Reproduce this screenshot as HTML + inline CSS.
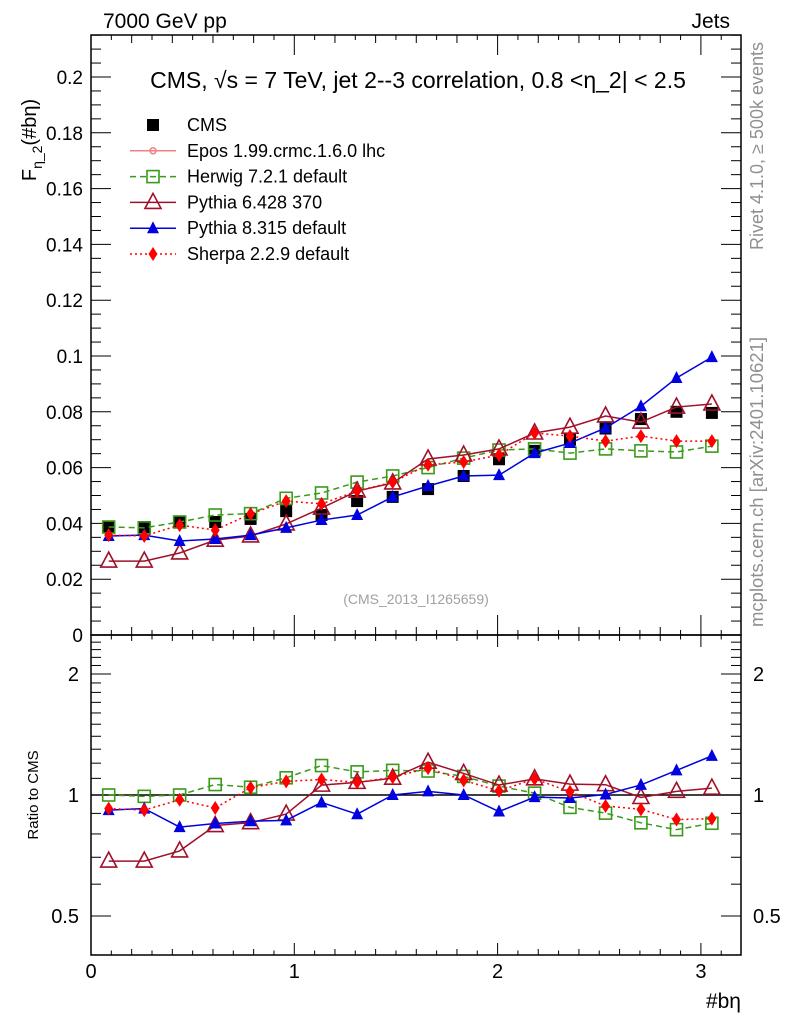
<!DOCTYPE html>
<html><head><meta charset="utf-8"><style>
body{margin:0;background:#fff;}
svg{font-family:"Liberation Sans",sans-serif;}
</style></head><body>
<svg id="c" width="786" height="1024" xmlns="http://www.w3.org/2000/svg"></svg>
<script>
const xCenters=[0.087,0.262,0.436,0.611,0.785,0.960,1.134,1.309,1.484,1.658,1.833,2.007,2.182,2.356,2.531,2.705,2.880,3.054];
const cmsVals=[0.0387,0.0387,0.0405,0.0405,0.0416,0.0444,0.043,0.048,0.0495,0.0523,0.057,0.063,0.066,0.070,0.074,0.0774,0.080,0.0796];
const herwigVals=[0.0387,0.0384,0.0405,0.043,0.0435,0.049,0.0509,0.0548,0.057,0.060,0.0634,0.0663,0.0667,0.0652,0.0667,0.066,0.0656,0.0677];
const pythia6Vals=[0.0265,0.0265,0.0294,0.034,0.0355,0.0398,0.0455,0.0516,0.0545,0.0631,0.0645,0.0667,0.0724,0.0745,0.0785,0.0763,0.0817,0.0828];
const pythia8Vals=[0.0355,0.0358,0.0337,0.0344,0.0358,0.0384,0.0412,0.043,0.0495,0.0534,0.057,0.0573,0.0652,0.0688,0.0742,0.082,0.0921,0.0996];
const sherpaVals=[0.0358,0.0355,0.0394,0.0376,0.0434,0.048,0.047,0.0516,0.0548,0.061,0.062,0.0645,0.0724,0.0713,0.0695,0.0713,0.0695,0.0695];
const mainYTicks=["0","0.02","0.04","0.06","0.08","0.1","0.12","0.14","0.16","0.18","0.2"];
const ratioTicks=["0.5","1","2"];
const xTicks=["0","1","2","3"];

const NS="http://www.w3.org/2000/svg";
const svg=document.getElementById('c');
const L=91,R=741,T=35,MB=635,RB=955;
const X=v=>L+v*203.3;
const Y=v=>MB-v*2790;
const YR=r=>795-121*Math.log2(r);
function el(tag,attrs,parent){const e=document.createElementNS(NS,tag);for(const k in attrs)e.setAttribute(k,attrs[k]);(parent||svg).appendChild(e);return e;}
function txt(s,attrs,parent){const e=el('text',attrs,parent);e.textContent=s;return e;}

let f1=el('rect',{x:L,y:T,width:R-L,height:MB-T,fill:'none',stroke:'#000','stroke-width':1.5});


let f2=el('rect',{x:L,y:MB,width:R-L,height:RB-MB,fill:'none',stroke:'#000','stroke-width':1.5});



const ax=el('g',{stroke:'#000','stroke-width':1});


for(let i=0;i<=43;i++){const v=i*0.005;const y=Y(v);if(y<T)break;const len=(i%4==0)?20:10;
 el('line',{x1:L,x2:L+len,y1:y,y2:y},ax);el('line',{x1:R,x2:R-len,y1:y,y2:y},ax);}
mainYTicks.forEach((s,i)=>{const t=txt(s,{x:L-8,y:Y(i*0.02)+7,'font-size':19,'text-anchor':'end'});
 
 });
for(let i=0;i<=32;i++){const v=i*0.1;const x=X(v);if(x>R)break;const len=(i%10==0)?20:(i%2==0?8:5);
 el('line',{x1:x,x2:x,y1:MB,y2:MB-len},ax);el('line',{x1:x,x2:x,y1:T,y2:T+len},ax);
 el('line',{x1:x,x2:x,y1:RB,y2:RB-len/2-2},ax);el('line',{x1:x,x2:x,y1:MB,y2:MB+len/2+2},ax);}
xTicks.forEach((s,i)=>{const t=txt(s,{x:X(i),y:978,'font-size':20,'text-anchor':'middle'});
 
 });
for(let r=0.4;r<=2.5;r+=0.1){const y=YR(r);if(y<MB||y>RB)continue;const major=[0.5,1,2].some(m=>Math.abs(m-r)<1e-6);const len=major?20:10;
 el('line',{x1:L,x2:L+len,y1:y,y2:y},ax);el('line',{x1:R,x2:R-len,y1:y,y2:y},ax);}
ratioTicks.forEach(s=>{const v=parseFloat(s);
 const a=txt(s,{x:L-12,y:YR(v)+7,'font-size':20,'text-anchor':'end'});
 
 
 const b=txt(s,{x:R+12,y:YR(v)+7,'font-size':20,'text-anchor':'start'});
 
 });
let one=el('line',{x1:L,x2:R,y1:YR(1),y2:YR(1),stroke:'#000','stroke-width':1.5});



function marker(type,x,y,color,g){
 if(type=='sqf')el('rect',{x:x-6,y:y-6,width:12,height:12,fill:color},g);
 else if(type=='sqo')el('rect',{x:x-6,y:y-6,width:12,height:12,fill:'none',stroke:color,'stroke-width':1.6},g);
 else if(type=='tro')el('polygon',{points:`${x},${y-9} ${x-8},${y+6} ${x+8},${y+6}`,fill:'none',stroke:color,'stroke-width':1.6},g);
 else if(type=='trf')el('polygon',{points:`${x},${y-7} ${x-6},${y+5} ${x+6},${y+5}`,fill:color},g);
 else if(type=='dia')el('polygon',{points:`${x},${y-7} ${x-4.5},${y} ${x},${y+7} ${x+4.5},${y}`,fill:color},g);
 else if(type=='cross'){el('circle',{cx:x,cy:y,r:3,fill:'none',stroke:color,'stroke-width':1.5},g);}
}
const series=[
 {name:'herwig',vals:herwigVals,color:'#3a9a1a',dash:'6,4',m:'sqo'},
 {name:'pythia6',vals:pythia6Vals,color:'#a0102a',dash:'',m:'tro'},
 {name:'pythia8',vals:pythia8Vals,color:'#0000e0',dash:'',m:'trf'},
 {name:'sherpa',vals:sherpaVals,color:'#ff0000',dash:'2,3',m:'dia'}];
const cg=el('g',{});


xCenters.forEach((x,i)=>marker('sqf',X(x),Y(cmsVals[i]),'#000',cg));
series.forEach(s=>{
 const g=el('g',{});
 
 
 const pts=xCenters.map((x,i)=>X(x)+','+Y(s.vals[i])).join(' ');
 el('polyline',{points:pts,fill:'none',stroke:s.color,'stroke-width':1.5,'stroke-dasharray':s.dash},g);
 xCenters.forEach((x,i)=>marker(s.m,X(x),Y(s.vals[i]),s.color,g));
 const gr=el('g',{});
 
 
 const rp=xCenters.map((x,i)=>X(x)+','+YR(s.vals[i]/cmsVals[i])).join(' ');
 el('polyline',{points:rp,fill:'none',stroke:s.color,'stroke-width':1.5,'stroke-dasharray':s.dash},gr);
 xCenters.forEach((x,i)=>marker(s.m,X(x),YR(s.vals[i]/cmsVals[i]),s.color,gr));
});

const leg=[['sqf','#000','','CMS'],['cross','#f08080','','Epos 1.99.crmc.1.6.0 lhc'],['sqo','#3a9a1a','6,4','Herwig 7.2.1 default'],
 ['tro','#a0102a','','Pythia 6.428 370'],['trf','#0000e0','','Pythia 8.315 default'],['dia','#ff0000','2,3','Sherpa 2.2.9 default']];
leg.forEach((l,i)=>{const y=125+i*25.8;const g=el('g',{});
 
 
 if(i>0)el('line',{x1:130,x2:176,y1:y,y2:y,stroke:l[1],'stroke-width':1.5,'stroke-dasharray':l[2]},g);
 marker(l[0],153,y,l[1],g);
 txt(l[3],{x:187,y:y+6,'font-size':18},g);});

function lab(s,a,name){const t=txt(s,a);return t;}
lab('7000 GeV pp',{x:103,y:28,'font-size':21},'energy-label');
lab('Jets',{x:730,y:28,'font-size':21,'text-anchor':'end'},'process-label');
lab('CMS, √s = 7 TeV, jet 2--3 correlation, 0.8 <η_2| < 2.5',{x:418,y:88,'font-size':23,'text-anchor':'middle'},'plot-title');
lab('(CMS_2013_I1265659)',{x:416,y:604,'font-size':14,fill:'#a0a0a0','text-anchor':'middle'},'analysis-id');
lab('#bη',{x:741,y:1008,'font-size':21,'text-anchor':'end'},'x-axis-title');
const yl=lab('',{transform:'translate(36,140) rotate(-90)','font-size':20,'text-anchor':'middle'},'y-axis-title');
yl.innerHTML='F<tspan font-size="14" dy="6">η_2</tspan><tspan dy="-6">(#bη)</tspan>';
lab('Ratio to CMS',{transform:'translate(38,795) rotate(-90)','font-size':15,'text-anchor':'middle'},'ratio-axis-title');
lab('Rivet 4.1.0, ≥ 500k events',{transform:'translate(763,146) rotate(-90)','font-size':18,fill:'#909090','text-anchor':'middle'},'rivet-label');
lab('mcplots.cern.ch [arXiv:2401.10621]',{transform:'translate(763,482) rotate(-90)','font-size':18.5,fill:'#909090','text-anchor':'middle'},'mcplots-label');
</script>
</body></html>
